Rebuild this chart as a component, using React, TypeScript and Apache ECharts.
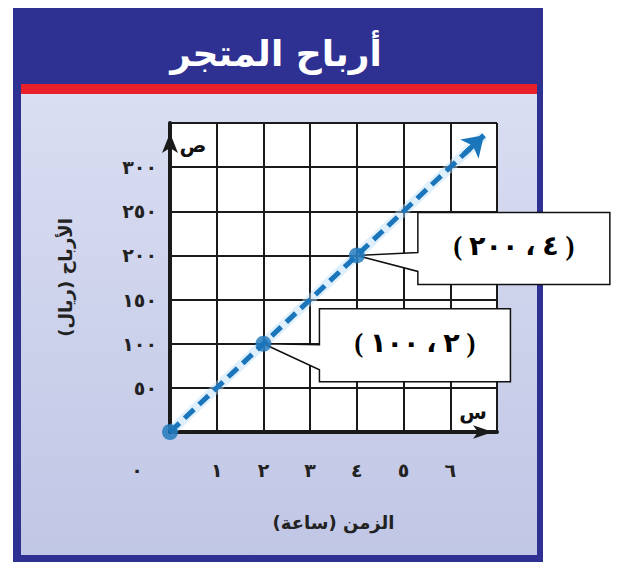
import React, { useEffect, useRef } from "react";
import * as echarts from "echarts";

// ---- texts ----
const TITLE = "أرباح المتجر";
const X_NAME = "الزمن (ساعة)";
const Y_NAME = "الأرباح (ريال)";
const X_SYMBOL = "س";
const Y_SYMBOL = "ص";

// ---- axis ticks ----
const xTickValues = [0, 1, 2, 3, 4, 5, 6];
const xTickLabels = ["٠", "١", "٢", "٣", "٤", "٥", "٦"];
const yTickValues = [50, 100, 150, 200, 250, 300];
const yTickLabels = ["٥٠", "١٠٠", "١٥٠", "٢٠٠", "٢٥٠", "٣٠٠"];

// ---- data ----
const pointX = [0, 2, 4];
const pointY = [0, 100, 200];
const lineX = [0, 6.72];
const lineY = [0, 336];
const arrowX = [6.3, 6.72];
const arrowY = [315, 336];
const calloutX = [2, 4];
const calloutY = [100, 200];
const calloutText = ["( ٢ ، ١٠٠ )", "( ٤ ، ٢٠٠ )"];

const BLUE = "#1b75bb";
const FRAME = "#2e3192";
const INK = "#1a1a1a";
const FONT = "DejaVu Sans";

export default function App() {
  const ref = useRef<HTMLDivElement>(null);

  useEffect(() => {
    const chart = echarts.init(ref.current!, null, { renderer: "svg" });
    const labelStyle = { fontFamily: FONT, fontWeight: "bold" as const, fontSize: 19, color: "#222" };

    chart.setOption({
      animation: false,
      backgroundColor: "#ffffff",
      grid: {
        left: 170,
        top: 123,
        width: 327,
        height: 309,
        show: true,
        backgroundColor: "#ffffff",
        borderWidth: 0,
        containLabel: false,
        outerBoundsMode: "none",
      },
      xAxis: {
        type: "value",
        min: 0,
        max: 7,
        interval: 1,
        name: X_NAME,
        nameLocation: "middle",
        nameGap: 81,
        nameTextStyle: { ...labelStyle, fontSize: 18 },
        axisLine: {
          show: true,
          lineStyle: { color: INK, width: 4 },
          symbol: ["none", "arrow"],
          symbolSize: [10, 20],
          symbolOffset: [0, -4],
        },
        axisTick: { show: false },
        splitLine: { show: true, lineStyle: { color: INK, width: 2 } },
        axisLabel: {
          ...labelStyle,
          margin: 28,
          showMinLabel: true,
          showMaxLabel: true,
          formatter: (v: number) => {
            if (v === 0) return "{z|" + xTickLabels[0] + "}";
            const i = xTickValues.indexOf(v);
            return i >= 0 ? xTickLabels[i] : "";
          },
          rich: {
            z: { ...labelStyle, padding: [0, 66, 0, 0] },
          },
        },
      },
      yAxis: {
        type: "value",
        min: 0,
        max: 350,
        interval: 50,
        name: Y_NAME,
        nameLocation: "middle",
        nameRotate: 90,
        nameGap: 96,
        nameTextStyle: { ...labelStyle, fontSize: 18 },
        axisLine: {
          show: true,
          lineStyle: { color: INK, width: 4 },
          symbol: ["none", "arrow"],
          symbolSize: [12, 20],
          symbolOffset: [0, -10],
        },
        axisTick: { show: false },
        splitLine: { show: true, lineStyle: { color: INK, width: 2 } },
        axisLabel: {
          ...labelStyle,
          margin: 13,
          formatter: (v: number) => {
            const i = yTickValues.indexOf(v);
            return i >= 0 ? yTickLabels[i] : "";
          },
        },
      },
      series: [
        {
          type: "line",
          data: lineX.map((x, i) => [x, lineY[i]]),
          showSymbol: false,
          silent: true,
          z: 2,
          lineStyle: { color: "rgba(185,222,248,0.45)", width: 10 },
        },
        {
          type: "line",
          data: lineX.map((x, i) => [x, lineY[i]]),
          showSymbol: false,
          silent: true,
          z: 3,
          lineStyle: { color: BLUE, width: 5, type: [13, 7] },
          markLine: {
            silent: true,
            symbol: ["none", "arrow"],
            symbolSize: 20,
            label: { show: false },
            lineStyle: { color: BLUE, width: 5, type: "solid" },
            data: [[{ coord: [arrowX[0], arrowY[0]] }, { coord: [arrowX[1], arrowY[1]] }]],
          },
        },
        {
          type: "scatter",
          data: pointX.map((x, i) => [x, pointY[i]]),
          symbol: "circle",
          symbolSize: 16,
          z: 5,
          itemStyle: { color: BLUE },
        },
      ],
    });

    const px = (x: number, y: number) =>
      chart.convertToPixel({ gridIndex: 0 }, [x, y]) as number[];

    // callout geometry relative to the data point: [left, top, right, bottom, tailTop, tailBottom]
    const calloutBox = [
      [56, -35, 247, 38, 1, 26],
      [61, -43, 253, 29, -3, 16],
    ];

    const callouts: any[] = [];
    calloutX.forEach((cx, i) => {
      const [x0, y0] = px(cx, calloutY[i]);
      const [l, t, r, b, tt, tb] = calloutBox[i];
      callouts.push({
        type: "polygon",
        id: "callout" + i,
        z: 1,
        shape: {
          points: [
            [x0 + l, y0 + t],
            [x0 + r, y0 + t],
            [x0 + r, y0 + b],
            [x0 + l, y0 + b],
            [x0 + l, y0 + tb],
            [x0, y0],
            [x0 + l, y0 + tt],
          ],
        },
        style: { fill: "#ffffff", stroke: "#111", lineWidth: 1.5 },
      });
      callouts.push({
        type: "text",
        id: "calloutText" + i,
        z: 2,
        x: x0 + (l + r) / 2,
        y: y0 + (t + b) / 2 - 2,
        style: {
          text: calloutText[i],
          fill: "#000",
          font: "bold 27px 'Liberation Serif', 'DejaVu Sans'",
          align: "center",
          verticalAlign: "middle",
        },
      });
    });

    const [ox, oy] = px(0, 350);
    const [ex, ey] = px(7, 0);

    chart.setOption({
      graphic: {
        elements: [
          { type: "rect", id: "frame", z: -10, shape: { x: 13, y: 8, width: 530, height: 554 }, style: { fill: FRAME } },
          {
            type: "rect",
            id: "panel",
            z: -9,
            shape: { x: 21, y: 94, width: 516, height: 461 },
            style: {
              fill: new echarts.graphic.LinearGradient(0, 0, 0, 1, [
                { offset: 0, color: "#dadef2" },
                { offset: 1, color: "#c0c6e5" },
              ]),
            },
          },
          { type: "rect", id: "redline", z: -8, shape: { x: 21, y: 84, width: 516, height: 10 }, style: { fill: "#e8202a" } },
          {
            type: "text",
            id: "title",
            z: -7,
            x: 276,
            y: 53,
            style: {
              text: TITLE,
              fill: "#ffffff",
              font: "bold 36px 'DejaVu Sans'",
              align: "center",
              verticalAlign: "middle",
            },
          },
          {
            type: "text",
            id: "ysym",
            z: 1,
            x: ox + 23,
            y: oy + 22,
            style: { text: Y_SYMBOL, fill: "#111", font: "bold 20px 'DejaVu Sans'", align: "center", verticalAlign: "middle" },
          },
          {
            type: "text",
            id: "xsym",
            z: 1,
            x: ex - 24,
            y: ey - 20,
            style: { text: X_SYMBOL, fill: "#111", font: "bold 20px 'DejaVu Sans'", align: "center", verticalAlign: "middle" },
          },
          ...callouts,
        ],
      },
    });

    return () => chart.dispose();
  }, []);

  return (
    <div
      ref={ref}
      style={{ position: "fixed", left: 0, top: 0, width: 619, height: 567 }}
    />
  );
}
